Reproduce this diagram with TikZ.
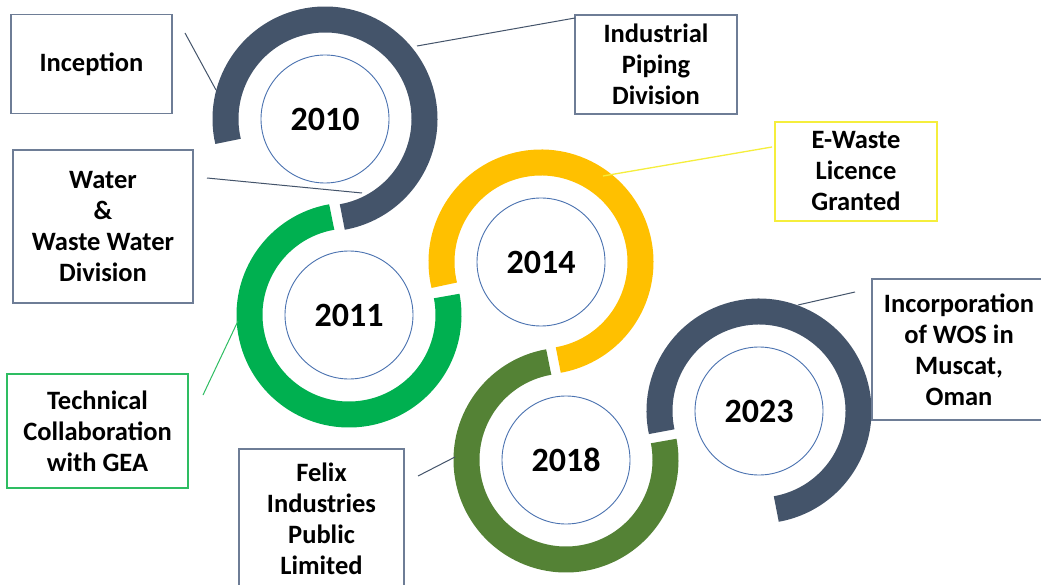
\documentclass[tikz,border=0pt]{standalone}
\usepackage{fontspec}
\setmainfont{Carlito}
\definecolor{slate}{HTML}{44546A}
\definecolor{ringgreen}{HTML}{00B050}
\definecolor{ringgold}{HTML}{FFC000}
\definecolor{ringolive}{HTML}{548235}
\definecolor{innerblue}{HTML}{4A72B0}
\definecolor{boxgray}{HTML}{6E7D96}
\definecolor{boxyellow}{RGB}{245,238,60}
\definecolor{boxgreen}{HTML}{2EBD62}
\begin{document}
\begin{tikzpicture}[x=1pt,y=1pt,
  ring/.style={line width=26pt},
  yearc/.style={circle, draw=innerblue, line width=0.9pt, minimum size=128pt, inner sep=0pt,
    font=\bfseries\fontsize{34}{40}\selectfont},
  box/.style={draw=boxgray, line width=1.2pt, align=center, inner sep=0pt,
    font=\bfseries\fontsize{26.5}{31}\selectfont},
  conn/.style={draw=slate, line width=1pt}]
\useasboundingbox (0,0) rectangle (1041,-585);
\fill[white] (0,0) rectangle (1041,-585);

% ring centres
\coordinate (c2010) at (325,-119);
\coordinate (c2011) at (349,-315);
\coordinate (c2014) at (541,-262);
\coordinate (c2018) at (566,-460);
\coordinate (c2023) at (759,-411);

% rings
\draw[ring, slate]      (c2010) ++(193:99.5pt) arc[start angle=193, end angle=-80, radius=99.5pt];
\draw[ring, ringgreen]  (c2011) ++(100:99.5pt) arc[start angle=100, end angle=371, radius=99.5pt];
\draw[ring, ringgold]   (c2014) ++(193.5:99.5pt) arc[start angle=193.5, end angle=-80, radius=99.5pt];
\draw[ring, ringolive]  (c2018) ++(100:99.5pt) arc[start angle=100, end angle=371, radius=99.5pt];
\draw[ring, slate]      (c2023) ++(192:99.5pt) arc[start angle=192, end angle=-80, radius=99.5pt];

% year circles
\node[yearc] (y2010) at (c2010) {2010};
\node[yearc] (y2011) at (c2011) {2011};
\node[yearc] (y2014) at (c2014) {2014};
\node[yearc] (y2018) at (c2018) {2018};
\node[yearc] (y2023) at (c2023) {2023};

% boxes
\node[box, minimum width=161pt, minimum height=99pt] (inception) at (91.5,-64) {Inception};
\node[box, minimum width=180pt, minimum height=153pt] (water) at (103,-226.5) {Water\\\&\\Waste Water\\Division};
\node[box, minimum width=162pt, minimum height=99pt] (piping) at (656,-64.5) {Industrial\\Piping\\Division};
\node[box, draw=boxyellow, minimum width=162pt, minimum height=99pt] (ewaste) at (856,-171.5) {E-Waste\\Licence\\Granted};
\node[box, minimum width=174pt, minimum height=141pt] (wos) at (959,-349.5) {Incorporation\\of WOS in\\Muscat,\\Oman};
\node[box, draw=boxgreen, minimum width=181pt, minimum height=114pt] (gea) at (97.5,-431) {Technical\\Collaboration\\with GEA};
\node[box, minimum width=165pt, minimum height=139pt] (felix) at (321.5,-518.5) {Felix\\Industries\\Public\\Limited};

% connector end points
\coordinate (a1) at (185,-33);   \coordinate (b1) at (216,-90);
\coordinate (a2) at (575,-18);   \coordinate (b2) at (417,-46);
\coordinate (a3) at (207,-178);  \coordinate (b3) at (362,-193);
\coordinate (a4) at (772,-147);  \coordinate (b4) at (603,-176);
\coordinate (a5) at (203,-395);  \coordinate (b5) at (238,-321);
\coordinate (a6) at (418,-476);  \coordinate (b6) at (455,-457);
\coordinate (a7) at (855,-292);  \coordinate (b7) at (798,-305);

\draw[conn] (a1) -- (b1);
\draw[conn] (a2) -- (b2);
\draw[conn] (a3) -- (b3);
\draw[conn, draw=boxyellow, line width=1.3pt] (a4) -- (b4);
\draw[conn, draw=boxgreen] (a5) -- (b5);
\draw[conn] (a6) -- (b6);
\draw[conn] (a7) -- (b7);
\end{tikzpicture}
\end{document}
